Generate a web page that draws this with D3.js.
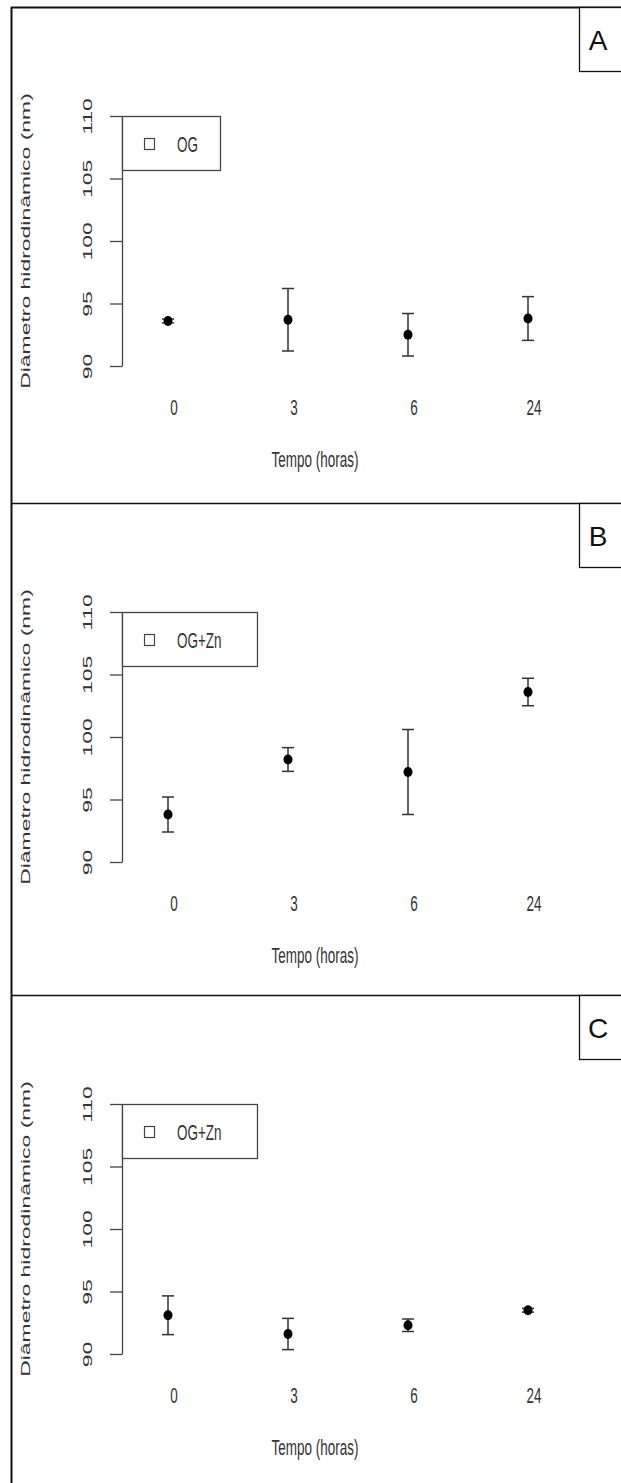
<!DOCTYPE html>
<html>
<head>
<meta charset="utf-8">
<script src="https://cdn.jsdelivr.net/npm/d3@7"></script>
<style>
  html, body { margin: 0; padding: 0; background: #fff; }
  svg { display: block; font-family: "Liberation Sans", Arial, sans-serif; }
</style>
</head>
<body>
<div id="chart"></div>
<script>
/* Three stacked dot + error bar panels (hydrodynamic diameter over time). */

var times = ["0", "3", "6", "24"];
var yTicks = [90, 95, 100, 105, 110];
var panelLabels = ["A", "B", "C"];
var legendLabels = ["OG", "OG+Zn", "OG+Zn"];
var meansA = [93.6, 93.7, 92.5, 93.8];
var errA = [0.15, 2.5, 1.7, 1.75];
var meansB = [93.8, 98.2, 97.2, 103.6];
var errB = [1.4, 0.95, 3.4, 1.1];
var meansC = [93.1, 91.6, 92.3, 93.5];
var errC = [1.55, 1.25, 0.5, 0.15];
var xTitle = "Tempo (horas)";
var yTitle = "Diâmetro hidrodinâmico (nm)";

var W = 621, H = 1483;
var stretch = 1.7;   // the source image is stretched vertically
var fs = 13.5;
var panelTops = [7, 503, 995];
var axisX = 122;

var svg = d3.select("#chart").append("svg")
  .attr("width", W).attr("height", H);

// outer frame (left + top) and panel dividers
svg.append("line").attr("x1", 11.5).attr("x2", 11.5).attr("y1", 7).attr("y2", H)
  .attr("stroke", "#111").attr("stroke-width", 2);
panelTops.forEach(function (t) {
  svg.append("line").attr("x1", 11).attr("x2", W).attr("y1", t + 0.5).attr("y2", t + 0.5)
    .attr("stroke", "#111").attr("stroke-width", t === 7 ? 2 : 1.5);
});

var panels = [
  { means: meansA, err: errA },
  { means: meansB, err: errB },
  { means: meansC, err: errC }
];

var x = d3.scalePoint().domain(times).range([168, 528]);

function stretchedText(g, tx, ty, rotate) {
  return g.append("text")
    .attr("transform", "translate(" + tx + "," + ty + ") scale(1," + stretch + ")" + (rotate ? " rotate(-90)" : ""));
}

panels.forEach(function (p, i) {
  var top = panelTops[i];
  var g = svg.append("g");
  var y = d3.scaleLinear().domain([90, 110]).range([top + 359, top + 109]);

  // panel letter box
  g.append("rect").attr("x", 579.5).attr("y", top + 0.5).attr("width", 60).attr("height", 64)
    .attr("fill", "#fff").attr("stroke", "#111").attr("stroke-width", 1.3);
  g.append("text").attr("x", 598).attr("y", top + 43)
    .attr("text-anchor", "middle").attr("font-size", 28).attr("fill", "#111")
    .text(panelLabels[i]);

  // y axis
  var ax = g.append("g").attr("transform", "translate(" + axisX + ",0)")
    .call(d3.axisLeft(y).tickValues(yTicks).tickSize(12).tickSizeOuter(0));
  ax.select(".domain").attr("stroke", "#444").attr("stroke-width", 1.3);
  ax.selectAll(".tick line").attr("stroke", "#444").attr("stroke-width", 1.3);
  ax.selectAll(".tick text")
    .attr("x", null).attr("dy", "0.35em")
    .attr("transform", "translate(-35,0) scale(1," + stretch + ") rotate(-90)")
    .attr("text-anchor", "middle").attr("font-size", fs).attr("fill", "#333")
    .attr("font-family", "Liberation Sans, Arial, sans-serif");

  // y title
  stretchedText(g, 25, y(100), true)
    .attr("dy", "0.35em").attr("text-anchor", "middle").attr("font-size", fs).attr("fill", "#333")
    .text(yTitle);

  // x tick labels (no axis line)
  times.forEach(function (t) {
    stretchedText(g, x(t) + 6, top + 400, false)
      .attr("dy", "0.35em").attr("text-anchor", "middle").attr("font-size", fs).attr("fill", "#333")
      .text(t);
  });
  stretchedText(g, 315, top + 452, false)
    .attr("dy", "0.35em").attr("text-anchor", "middle").attr("font-size", fs).attr("fill", "#333")
    .text(xTitle);

  // legend
  var legW = legendLabels[i].length > 2 ? 135 : 98;
  g.append("rect").attr("x", axisX + 0.5).attr("y", y(110) + 0.5).attr("width", legW).attr("height", 54)
    .attr("fill", "#fff").attr("stroke", "#444").attr("stroke-width", 1.3);
  g.append("rect").attr("x", 144.5).attr("y", y(110) + 22.5).attr("width", 10).attr("height", 11)
    .attr("fill", "none").attr("stroke", "#444").attr("stroke-width", 1.2);
  stretchedText(g, 177, y(110) + 28, false)
    .attr("dy", "0.35em").attr("font-size", fs).attr("fill", "#333")
    .text(legendLabels[i]);

  // error bars + points
  var rows = times.map(function (t, k) { return { t: t, m: p.means[k], e: p.err[k] }; });
  var bars = g.selectAll(".eb").data(rows).enter().append("g").attr("class", "eb");
  bars.append("line")
    .attr("x1", function (d) { return x(d.t); }).attr("x2", function (d) { return x(d.t); })
    .attr("y1", function (d) { return y(d.m - d.e); }).attr("y2", function (d) { return y(d.m + d.e); })
    .attr("stroke", "#333").attr("stroke-width", 1.5);
  [-1, 1].forEach(function (s) {
    bars.append("line")
      .attr("x1", function (d) { return x(d.t) - 6; }).attr("x2", function (d) { return x(d.t) + 6; })
      .attr("y1", function (d) { return y(d.m + s * d.e); }).attr("y2", function (d) { return y(d.m + s * d.e); })
      .attr("stroke", "#333").attr("stroke-width", 1.5);
  });
  bars.append("ellipse")
    .attr("cx", function (d) { return x(d.t); }).attr("cy", function (d) { return y(d.m); })
    .attr("rx", 4.5).attr("ry", 5).attr("fill", "#000");
});
</script>
</body>
</html>
